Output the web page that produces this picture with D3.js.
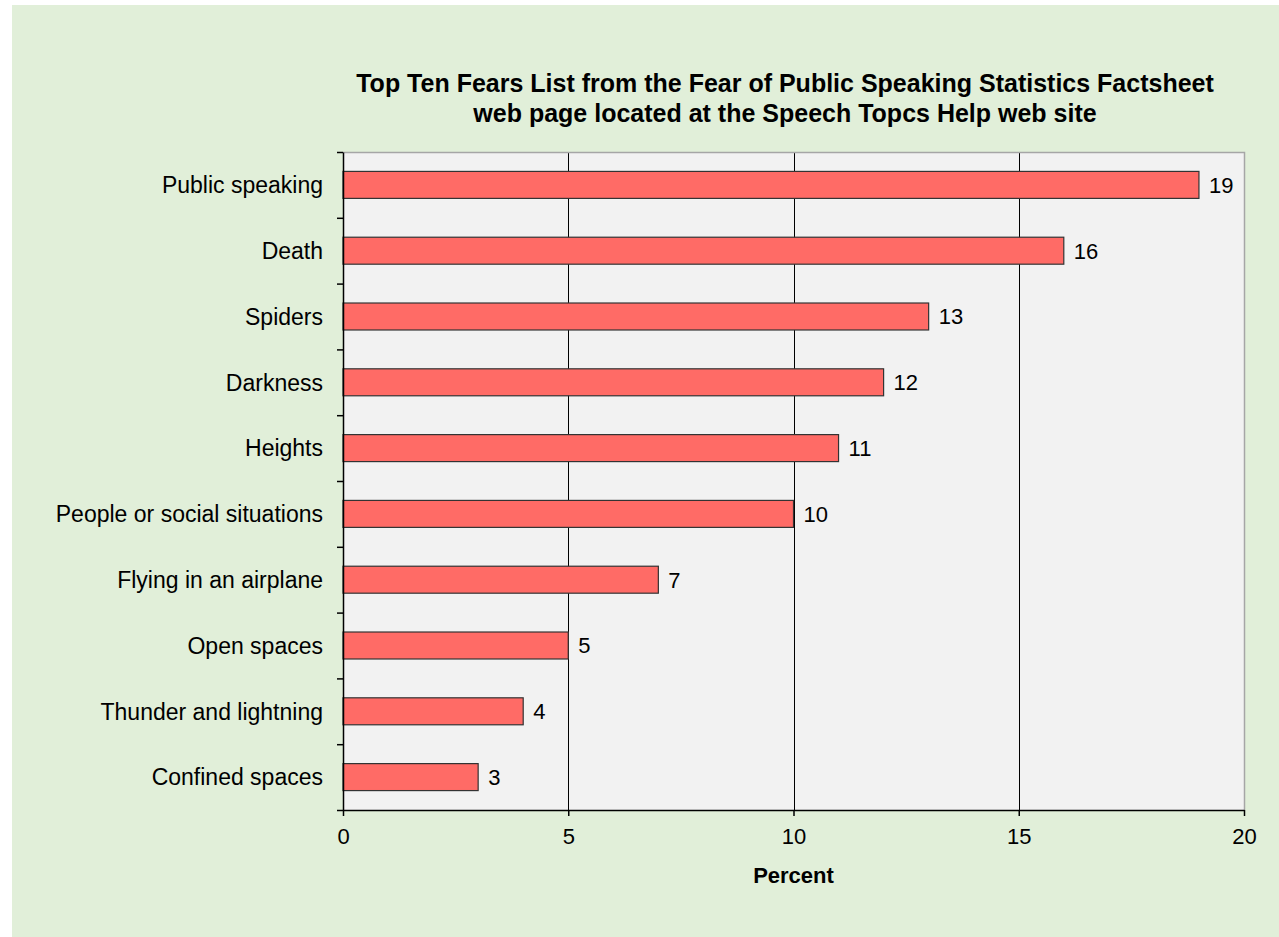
<!DOCTYPE html>
<html>
<head>
<meta charset="utf-8">
<script src="https://cdn.jsdelivr.net/npm/d3@7"></script>
<style>
  body { margin: 0; background: #ffffff; }
  text { font-family: "Liberation Sans", Arial, sans-serif; fill: #000; }
</style>
</head>
<body>
<script>
// data
let categories = [
	"Public speaking",
	"Death",
	"Spiders",
	"Darkness",
	"Heights",
	"People or social situations",
	"Flying in an airplane",
	"Open spaces",
	"Thunder and lightning",
	"Confined spaces"
];
let values = [19, 16, 13, 12, 11, 10, 7, 5, 4, 3];
let xTicks = [0, 5, 10, 15, 20];
let titleLines = [
	"Top Ten Fears List from the Fear of Public Speaking Statistics Factsheet",
	"web page located at the Speech Topcs Help web site"
];
let xLabel = "Percent";

let rows = categories.map((c, i) => ({ name: c, value: values[i] }));

let width = 1279,
	height = 937;
let plot = { left: 343, top: 152, right: 1244, bottom: 810 };

let svg = d3
	.select("body")
	.append("svg")
	.attr("width", width)
	.attr("height", height);

// green panel
svg.append("rect")
	.attr("x", 12).attr("y", 5)
	.attr("width", width - 12).attr("height", height - 5)
	.attr("fill", "#e1efd9");

//Scales:
let x = d3.scaleLinear().domain([0, 20]).range([plot.left, plot.right]);
let y = d3.scaleBand()
	.domain(categories)
	.range([plot.top, plot.bottom])
	.paddingInner(0.59)
	.paddingOuter(0.295);
// for ticks at band edges
let yEdge = d3.scaleLinear().domain([0, categories.length]).range([plot.top, plot.bottom]);

// plot background
svg.append("rect")
	.attr("x", plot.left).attr("y", plot.top)
	.attr("width", plot.right - plot.left).attr("height", plot.bottom - plot.top)
	.attr("fill", "#f2f2f2");

// gridlines
svg.append("g")
	.selectAll("line")
	.data(xTicks.filter(d => d > 0 && d < 20))
	.enter()
	.append("line")
	.attr("x1", d => Math.round(x(d)) + 0.5)
	.attr("x2", d => Math.round(x(d)) + 0.5)
	.attr("y1", plot.top)
	.attr("y2", plot.bottom)
	.attr("stroke", "#000")
	.attr("stroke-width", 1);

// top / right border in gray
svg.append("path")
	.attr("d", `M${plot.left},${plot.top + 0.5}H${plot.right + 0.5}V${plot.bottom}`)
	.attr("fill", "none")
	.attr("stroke", "#a6a6a6")
	.attr("stroke-width", 1.5);

//Bars:
svg.append("g")
	.selectAll("rect")
	.data(rows)
	.enter()
	.append("rect")
	.attr("x", x(0))
	.attr("y", d => y(d.name))
	.attr("width", d => x(d.value) - x(0))
	.attr("height", y.bandwidth())
	.attr("fill", "#ff6b66")
	.attr("stroke", "#333")
	.attr("stroke-width", 1.2);

// value labels
svg.append("g")
	.selectAll("text")
	.data(rows)
	.enter()
	.append("text")
	.attr("x", d => x(d.value) + 10)
	.attr("y", d => y(d.name) + y.bandwidth() / 2)
	.attr("dy", "0.36em")
	.style("font-size", "22px")
	.text(d => d.value);

//Axes:
let xAxis = svg.append("g")
	.attr("transform", `translate(0,${plot.bottom})`)
	.call(d3.axisBottom(x).tickValues(xTicks).tickSize(6).tickPadding(12).tickSizeOuter(0));
xAxis.selectAll("text").style("font-size", "22px").attr("fill", "#000");
xAxis.selectAll("line, path").attr("stroke", "#000").attr("stroke-width", 1.5);

let yTickAxis = svg.append("g")
	.attr("transform", `translate(${plot.left},0)`)
	.call(d3.axisLeft(yEdge).ticks(10).tickFormat("").tickSize(6).tickSizeOuter(0));
yTickAxis.selectAll("line, path").attr("stroke", "#000").attr("stroke-width", 1.5);

let yLabels = svg.append("g")
	.attr("transform", `translate(${plot.left},0)`)
	.call(d3.axisLeft(y).tickSize(0).tickPadding(20));
yLabels.select(".domain").remove();
yLabels.selectAll("text").style("font-size", "23px").attr("fill", "#000").attr("dy", "0.36em");

// title
svg.append("text")
	.attr("x", 785)
	.attr("text-anchor", "middle")
	.style("font-size", "25px")
	.style("font-weight", "bold")
	.selectAll("tspan")
	.data(titleLines)
	.enter()
	.append("tspan")
	.attr("x", 785)
	.attr("y", (d, i) => 92 + i * 30)
	.text(d => d);

// x axis title
svg.append("text")
	.attr("x", (plot.left + plot.right) / 2)
	.attr("y", 883)
	.attr("text-anchor", "middle")
	.style("font-size", "22px")
	.style("font-weight", "bold")
	.text(xLabel);
</script>
</body>
</html>
